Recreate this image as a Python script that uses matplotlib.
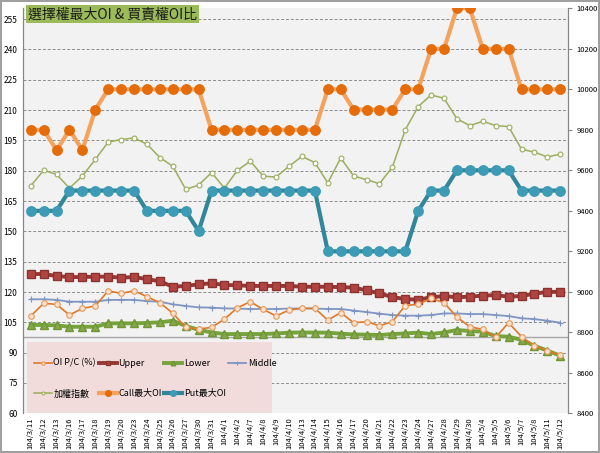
import matplotlib.pyplot as plt
from matplotlib.patches import Rectangle

plt.rcParams['font.family'] = ['Noto Sans CJK TC', 'DejaVu Sans']

# 日期 (交易日)
dates = ["104/3/11", "104/3/12", "104/3/13", "104/3/16", "104/3/17", "104/3/18",
         "104/3/19", "104/3/20", "104/3/23", "104/3/24", "104/3/25", "104/3/26",
         "104/3/27", "104/3/30", "104/3/31", "104/4/1", "104/4/2", "104/4/7",
         "104/4/8", "104/4/9", "104/4/10", "104/4/13", "104/4/14", "104/4/15",
         "104/4/16", "104/4/17", "104/4/20", "104/4/21", "104/4/22", "104/4/23",
         "104/4/24", "104/4/27", "104/4/28", "104/4/29", "104/4/30", "104/5/4",
         "104/5/5", "104/5/6", "104/5/7", "104/5/8", "104/5/11", "104/5/12"]

# 左軸: 買賣權OI比 與 布林通道
oi_pc = [108.1, 114.4, 113.9, 108.6, 111.9, 113.1, 120.6, 119.3, 120.6, 117.7,
         114.7, 109.5, 102.5, 101.7, 102.5, 106.6, 112.2, 115.2, 111.4, 108.1,
         111.1, 111.9, 111.9, 106.1, 109.8, 104.8, 105.3, 103.3, 105.3, 113.3,
         113.9, 116.9, 114.7, 107.5, 102.8, 101.5, 97.6, 104.8, 97.9, 93.4,
         91.0, 88.7]
upper = [128.9, 128.9, 127.9, 127.4, 127.4, 127.6, 127.6, 127.1, 127.4, 126.4,
         125.3, 122.6, 123.0, 123.8, 124.3, 123.5, 123.3, 123.0, 123.0, 123.0,
         123.0, 122.6, 122.6, 122.6, 122.4, 122.2, 120.8, 119.3, 117.5, 116.5,
         116.2, 117.4, 118.0, 117.4, 117.7, 118.2, 118.5, 117.7, 118.0, 119.2,
         120.0, 120.1]
lower = [103.7, 103.7, 103.5, 102.8, 102.8, 102.8, 104.5, 104.5, 104.5, 104.7,
         105.0, 105.8, 103.2, 101.3, 100.0, 99.2, 99.2, 99.2, 99.2, 99.5,
         99.9, 100.0, 99.9, 99.9, 99.4, 99.0, 98.9, 98.7, 99.2, 99.5,
         99.9, 99.2, 100.0, 101.2, 100.7, 100.4, 98.2, 97.9, 96.3, 93.4,
         91.0, 88.5]
middle = [116.4, 116.4, 116.1, 115.2, 115.2, 115.2, 116.1, 116.1, 116.1, 115.5,
          115.2, 113.9, 113.1, 112.4, 112.3, 111.9, 111.8, 111.6, 111.6, 111.6,
          111.8, 111.9, 111.8, 111.6, 111.6, 110.8, 110.1, 109.3, 108.6, 108.3,
          108.3, 108.6, 109.4, 109.4, 109.1, 109.1, 108.6, 108.1, 107.0, 106.6,
          105.8, 104.8]

# 右軸: 加權指數 與 最大OI履約價
taiex = [9523, 9600, 9580, 9512, 9572, 9654, 9740, 9752, 9760, 9729,
         9663, 9620, 9506, 9527, 9589, 9512, 9600, 9645, 9571, 9567,
         9620, 9669, 9638, 9538, 9661, 9572, 9554, 9534, 9616, 9800,
         9915, 9972, 9956, 9854, 9821, 9842, 9821, 9816, 9704, 9690,
         9666, 9680]
call_oi = [9800, 9800, 9700, 9800, 9700, 9900, 10000, 10000, 10000, 10000,
           10000, 10000, 10000, 10000, 9800, 9800, 9800, 9800, 9800, 9800,
           9800, 9800, 9800, 10000, 10000, 9900, 9900, 9900, 9900, 10000,
           10000, 10200, 10200, 10400, 10400, 10200, 10200, 10200, 10000, 10000,
           10000, 10000]
put_oi = [9400, 9400, 9400, 9500, 9500, 9500, 9500, 9500, 9500, 9400,
          9400, 9400, 9400, 9300, 9500, 9500, 9500, 9500, 9500, 9500,
          9500, 9500, 9500, 9200, 9200, 9200, 9200, 9200, 9200, 9200,
          9400, 9500, 9500, 9600, 9600, 9600, 9600, 9600, 9500, 9500,
          9500, 9500]

left_ticks = list(range(60, 256, 15))
right_ticks = list(range(8400, 10401, 200))

x = list(range(len(dates)))

fig = plt.figure(figsize=(6, 4.53), dpi=100)
fig.patch.set_facecolor('white')
fig.patch.set_edgecolor('#a0a0a0')
fig.patch.set_linewidth(1.5)

ax = fig.add_axes([0.0383, 0.0876, 0.9084, 0.894])
ax.set_facecolor('#f2f2f2')
ax2 = ax.twinx()

# 左軸系列
l_pc, = ax.plot(x, oi_pc, color='#e0782a', lw=1.2, marker='o', ms=4,
                mfc='#fde3cf', mec='#e59a5a', mew=0.8, label='OI P/C (%)', zorder=4)
l_up, = ax.plot(x, upper, color='#953735', lw=2.8, marker='s', ms=5.5,
                mfc='#b04442', mec='#8c3330', label='Upper', zorder=3)
l_lo, = ax.plot(x, lower, color='#77a33c', lw=2.8, marker='^', ms=5.5,
                mfc='#86a84a', mec='#6f9535', label='Lower', zorder=3)
l_mid, = ax.plot(x, middle, color='#7f96c2', lw=1.3, marker='+', ms=5,
                 mec='#7f96c2', mew=0.8, label='Middle', zorder=3)
ax.axhline(97.5, color='#a6a6a6', lw=1, zorder=2)

ax.set_ylim(60, 260.3)
ax.set_yticks(left_ticks)
ax.set_xlim(-0.6, len(dates) - 0.4)
ax.set_xticks(x)
ax.set_xticklabels(dates, rotation=90, fontsize=5.5)
ax.tick_params(axis='y', length=0, labelsize=6, pad=4)
ax.tick_params(axis='x', length=0, pad=3)
ax.grid(axis='y', color='#8c8c8c', ls=(0, (3, 2)), lw=0.7)
ax.set_axisbelow(True)

# 右軸系列
l_tx, = ax2.plot(x, taiex, color='#9bae5e', lw=1.1, marker='o', ms=3.5,
                 mfc='white', mec='#9bae5e', mew=0.8, label='加權指數', zorder=3)
l_call, = ax2.plot(x, call_oi, color='#f5a25d', lw=3, marker='o', ms=6.8,
                   mfc='#e46c0a', mec='#e46c0a', label='Call最大OI', zorder=5)
l_put, = ax2.plot(x, put_oi, color='#31869b', lw=3, marker='o', ms=6.8,
                  mfc='#3d9bb5', mec='#3d9bb5', label='Put最大OI', zorder=5)
ax2.set_ylim(8400, 10400)
ax2.set_yticks(right_ticks)
ax2.tick_params(axis='y', length=3, color='#868686', labelsize=5.5, pad=3)

for a in (ax, ax2):
    for side in ('top', 'bottom'):
        a.spines[side].set_visible(False)
    a.spines['left'].set_color('#868686')
    a.spines['right'].set_color('#868686')

# 圖例底框
ax2.add_patch(Rectangle((0.007, 0.0), 0.45, 0.177, transform=ax2.transAxes,
                        facecolor='#f2dcdb', edgecolor='none', zorder=6))
handles = [l_pc, l_tx, l_up, l_call, l_lo, l_put, l_mid]
leg = ax2.legend(handles=handles, ncol=4, loc='lower left',
                 bbox_to_anchor=(0.002, 0.012), frameon=False, fontsize=6.5,
                 handlelength=2.0, handletextpad=0.15, columnspacing=0.3,
                 labelspacing=2.4, borderpad=0.6, markerscale=0.6)
leg.set_zorder(7)

fig.text(0.047, 0.969, '選擇權最大OI & 買賣權OI比', fontsize=10, color='#1a1a1a',
         va='center', ha='left',
         bbox=dict(boxstyle='square,pad=0.15', facecolor='#9bbb59', edgecolor='none'))

fig.savefig('out.png', dpi=100)
